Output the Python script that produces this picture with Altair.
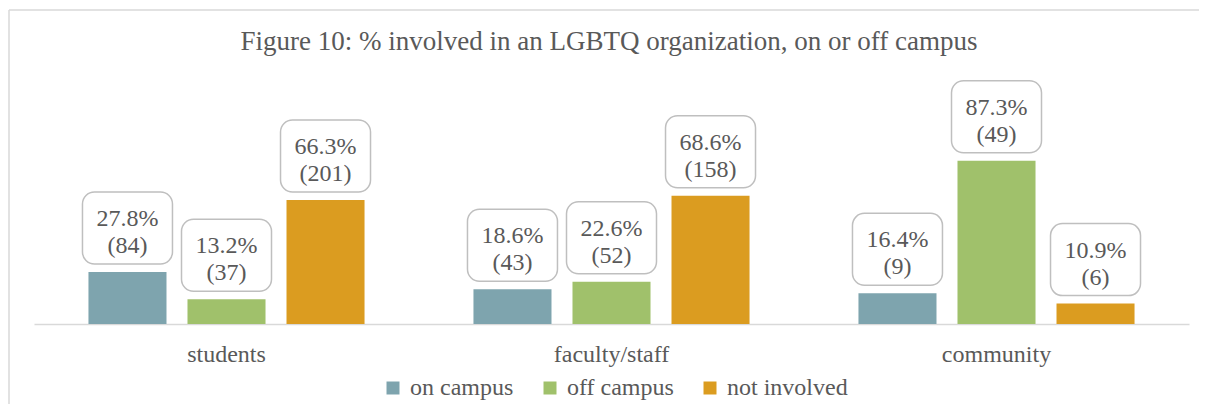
import altair as alt
import pandas as pd

groups = ["students", "faculty/staff", "community"]
series = ["on campus", "off campus", "not involved"]
colors = ["#7EA4AE", "#A0C16B", "#DB9C20"]
pct_students = [27.8, 13.2, 66.3]
pct_faculty = [18.6, 22.6, 68.6]
pct_community = [16.4, 87.3, 10.9]
n_students = [84, 37, 201]
n_faculty = [43, 52, 158]
n_community = [9, 49, 6]
title_text = "Figure 10: % involved in an LGBTQ organization, on or off campus"

rows = []
for g, pcts, ns in zip(groups, [pct_students, pct_faculty, pct_community],
                       [n_students, n_faculty, n_community]):
    for s, p, n in zip(series, pcts, ns):
        rows.append({"group": g, "series": s, "pct": p, "n": n,
                     "label": f"{p:.1f}%\n({n})"})
df = pd.DataFrame(rows)

FONT = "'Liberation Serif', 'DejaVu Serif', serif"
TXT = "#595959"

x = alt.X("group:N", sort=groups,
          scale=alt.Scale(paddingInner=0, paddingOuter=0),
          axis=alt.Axis(title=None, labelAngle=0, ticks=False, labelPadding=18,
                        labelFontSize=24, labelFont=FONT, labelColor=TXT,
                        domainColor="#D9D9D9", domainWidth=1.5, grid=False))
xo = alt.XOffset("series:N", sort=series,
                 scale=alt.Scale(paddingInner=0.212, paddingOuter=0.55))
y = alt.Y("pct:Q", scale=alt.Scale(domain=[0, 100]), axis=None)

base = alt.Chart(df)

bars = base.mark_bar().encode(
    x=x, xOffset=xo, y=y,
    color=alt.Color("series:N", sort=series,
                    scale=alt.Scale(domain=series, range=colors),
                    legend=alt.Legend(title=None, orient="none", legendX=347, legendY=239,
                                      direction="horizontal", symbolType="square",
                                      symbolSize=169, symbolStrokeWidth=0,
                                      labelFontSize=24, labelFont=FONT,
                                      labelColor=TXT,
                                      columnPadding=24, labelOffset=5)),
)

boxes = base.transform_calculate(top="datum.pct").mark_bar(
    width=90, yOffset=-80, y2Offset=-8, cornerRadius=12,
    fill="white", stroke="#BFBFBF", strokeWidth=1.5
).encode(x=x, xOffset=xo, y=y, y2=alt.Y2("top:Q"))

labels = base.mark_text(
    lineBreak="\n", dy=-53, lineHeight=27, baseline="middle",
    font=FONT, fontSize=24, color=TXT
).encode(x=x, xOffset=xo, y=y, text="label:N")

one = alt.Chart(pd.DataFrame({"t": [title_text]}))
top_edge = one.mark_rule(color="#D9D9D9", strokeWidth=1.5).encode(
    x=alt.value(-25), x2=alt.value(1170), y=alt.value(-127))
left_edge = one.mark_rule(color="#D9D9D9", strokeWidth=1.5).encode(
    x=alt.value(-25), y=alt.value(-127), y2=alt.value(270))
title = one.mark_text(font=FONT, fontSize=27, color=TXT, baseline="alphabetic",
                      align="center").encode(
    x=alt.value(575), y=alt.value(-87), text="t:N")

chart = alt.layer(top_edge, left_edge, title, bars, boxes, labels).properties(
    width=1155, height=187,
    autosize=alt.AutoSizeParams(type="none"),
    padding={"left": 26, "top": 129, "right": 10, "bottom": 80},
    background="white",
).configure(font=FONT).configure_view(stroke=None)

chart.save("out.html", embed_options={"renderer": "svg", "actions": False})
